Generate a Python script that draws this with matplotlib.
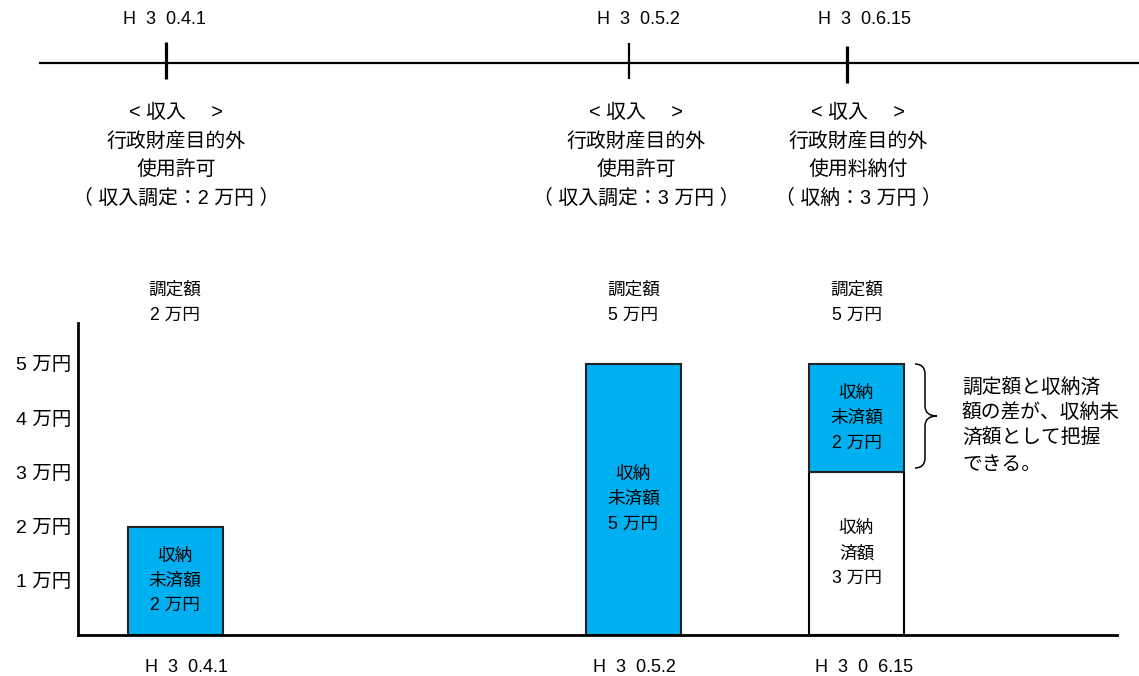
import numpy as np
import matplotlib
matplotlib.use("Agg")
from matplotlib import pyplot as plt
from matplotlib.path import Path
from matplotlib.patches import PathPatch

plt.rcParams['font.family'] = ['Liberation Sans', 'Noto Sans CJK JP', 'DejaVu Sans']

# data
dates_top = ["H  3  0.4.1", "H  3  0.5.2", "H  3  0.6.15"]
dates_bottom = ["H  3  0.4.1", "H  3  0.5.2", "H  3  0  6.15"]
events = [
    "< 収入　 >\n行政財産目的外\n使用許可\n（ 収入調定：2 万円 ）",
    "< 収入　 >\n行政財産目的外\n使用許可\n（ 収入調定：3 万円 ）",
    "< 収入　 >\n行政財産目的外\n使用料納付\n（ 収納：3 万円 ）",
]
chotei = [2, 5, 5]      # 調定額 (万円)
shuno_zumi = [0, 0, 3]  # 収納済額
minou = [2, 5, 2]       # 収納未済額
yticks = [1, 2, 3, 4, 5]
ylabels = ["1 万円", "2 万円", "3 万円", "4 万円", "5 万円"]
note = "調定額と収納済\n額の差が、収納未\n済額として把握\nできる。"

# layout (pixels)
W, H = 1139, 676
bar_x = [97, 555.5, 778.5]
bar_w = 95
blue = "#00B0F0"

fig = plt.figure(figsize=(W / 100, H / 100), dpi=100)

# overlay for timeline and free text
ov = fig.add_axes([0, 0, 1, 1])
ov.set_xlim(0, W)
ov.set_ylim(H, 0)
ov.axis("off")

ov.plot([40, W], [62.5, 62.5], color="black", lw=1.6)
tick_x = [166, 629, 846.5]
tick_y = [(42, 79), (43, 78.5), (46, 83)]
tick_lw = [2.3, 1.6, 2.3]
for tx, (y0, y1), lw in zip(tick_x, tick_y, tick_lw):
    ov.plot([tx, tx], [y0, y1], color="black", lw=lw, solid_capstyle="butt")

label_x = [164, 638, 865]
for lx, d in zip(label_x, dates_top):
    ov.text(lx, 20, d, ha="center", va="center", fontsize=13)
event_x = [176, 636, 858]
for ex, e in zip(event_x, events):
    ov.text(ex, 155.5, e, ha="center", va="center", fontsize=14.3, linespacing=1.62)

bottom_x = [186, 634, 864]
for bx, d in zip(bottom_x, dates_bottom):
    ov.text(bx, 667, d, ha="center", va="center", fontsize=13)

# brace
verts = [(915, 364), (925, 364), (925, 374),
         (925, 406), (925, 416), (937, 416),
         (925, 416), (925, 426),
         (925, 458), (925, 468), (915, 468)]
codes = [Path.MOVETO, Path.CURVE3, Path.CURVE3,
         Path.LINETO, Path.CURVE3, Path.CURVE3,
         Path.CURVE3, Path.CURVE3,
         Path.LINETO, Path.CURVE3, Path.CURVE3]
ov.add_patch(PathPatch(Path(verts, codes), fill=False, lw=1.1, color="black"))

ov.text(962, 425.5, note, ha="left", va="center", fontsize=14.2, linespacing=1.45)

# bar axes
x0, x1, ybase, ytop = 78, 1117, 635, 323
ppu = 54.2
ax = fig.add_axes([x0 / W, (H - ybase) / H, (x1 - x0) / W, (ybase - ytop) / H])
ax.patch.set_visible(False)
ax.set_xlim(0, x1 - x0)
ax.set_ylim(0, (ybase - ytop) / ppu)

for xi, s, m in zip(bar_x, shuno_zumi, minou):
    if s > 0:
        ax.bar(xi, s, width=bar_w, color="white", edgecolor="black", lw=1.5)
        ax.text(xi, s / 2, "収納\n済額\n%d 万円" % s, ha="center", va="center",
                fontsize=12.7, linespacing=1.6)
    ax.bar(xi, m, bottom=s, width=bar_w, color=blue, edgecolor="#222222", lw=1.5)
    ax.text(xi, s + m / 2, "収納\n未済額\n%d 万円" % m, ha="center", va="center",
            fontsize=12.7, linespacing=1.6)

for xi, c in zip(bar_x, chotei):
    ax.text(xi, 1.065, "調定額\n%d 万円" % c, ha="center", va="center",
            fontsize=12.7, linespacing=1.65,
            transform=ax.get_xaxis_transform())

for side in ["top", "right"]:
    ax.spines[side].set_visible(False)
ax.spines["left"].set_linewidth(2)
ax.spines["bottom"].set_linewidth(2)
ax.set_xticks([])
ax.set_yticks(yticks)
ax.set_yticklabels(ylabels, fontsize=14)
ax.tick_params(axis="y", length=0, pad=5)

fig.savefig("out.png", dpi=100)
